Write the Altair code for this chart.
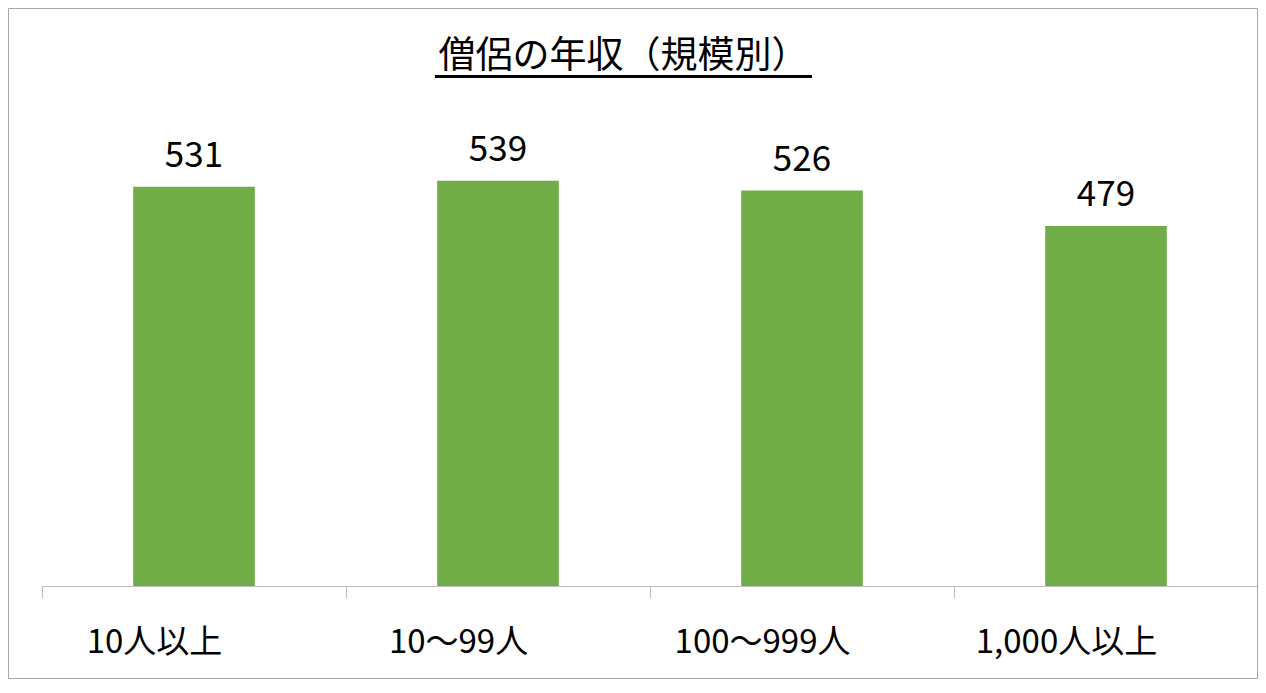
import altair as alt
import pandas as pd

categories = ["10人以上", "10〜99人", "100〜999人", "1,000人以上"]
values = [531, 539, 526, 479]
title_text = "僧侶の年収（規模別）"

df = pd.DataFrame({"cat": categories, "val": values})
one = pd.DataFrame({"t": [title_text]})

FONT = "Noto Sans CJK JP"

xenc = alt.X(
    "cat:N",
    sort=categories,
    scale=alt.Scale(paddingInner=0, paddingOuter=0),
    axis=alt.Axis(
        title=None,
        labelAngle=0,
        labelFont=FONT,
        labelFontSize=33,
        labelColor="#000000",
        labelBaseline="top",
        labelPadding=28,
        labelOffset=-40,
        labelLimit=500,
        labelOverlap=False,
        domainColor="#BFBFBF",
        tickColor="#BFBFBF",
        tickSize=12,
        tickBand="extent",
        grid=False,
    ),
)
yenc = alt.Y("val:Q", scale=alt.Scale(domain=[0, 600]), axis=None)

bars = alt.Chart(df).mark_bar(color="#70AD47", width=alt.RelativeBandSize(0.4)).encode(x=xenc, y=yenc)
labels = alt.Chart(df).mark_text(
    font=FONT, fontSize=35, baseline="alphabetic", dy=-20, color="#000000"
).encode(x=xenc, y=yenc, text="val:Q")

title = alt.Chart(one).mark_text(
    font=FONT, fontSize=37, baseline="alphabetic", align="center", color="#000000"
).encode(x=alt.value(581.5), y=alt.value(-67), text="t:N")

underline = alt.Chart(one).mark_rule(color="#000000", strokeWidth=3).encode(
    x=alt.value(393), x2=alt.value(770), y=alt.value(-58.5)
)

border = alt.Chart(one).mark_rect(
    fill=None, fillOpacity=0, stroke="#A6A6A6", strokeWidth=1
).encode(
    x=alt.value(-33.5), x2=alt.value(1215.5), y=alt.value(-126.5), y2=alt.value(543.5)
)

chart = alt.layer(border, bars, labels, title, underline).properties(
    width=1216,
    height=451,
    background="#FFFFFF",
    autosize=alt.AutoSizeParams(type="none"),
    padding={"left": 34, "top": 127, "right": 0, "bottom": 93},
).configure_view(strokeWidth=0, stroke="transparent")

chart.save("out.html", embed_options={"renderer": "svg", "actions": False})
